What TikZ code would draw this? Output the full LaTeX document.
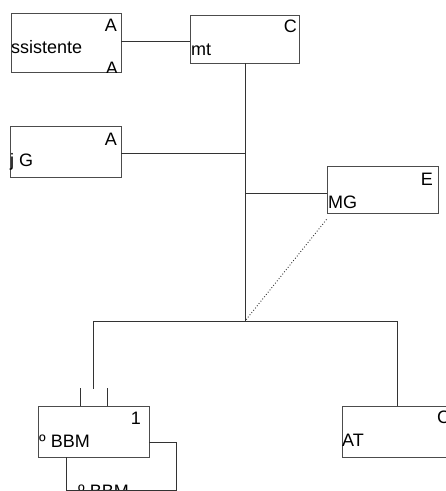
\documentclass[tikz,border=0pt]{standalone}
\usepackage{fontspec}
\setmainfont{Liberation Sans}
\usepackage{tikz}
\usetikzlibrary{calc}
\tikzstyle{box} = [rectangle, draw=black!70, line width=0.9pt, inner sep=0pt]
\tikzstyle{txt} = [inner sep=0pt, font=\fontsize{18}{20}\selectfont]
\tikzstyle{line} = [draw=black!80, line width=0.9pt]

\begin{document}
\begin{tikzpicture}[x=1pt,y=-1pt]
    \clip (0,0) rectangle (446,491);
    % Place nodes
    \node [box, minimum width=110pt, minimum height=59pt] (asst) at (66,42.5) {};
    \node [box, minimum width=109pt, minimum height=48pt] (mt) at (244.5,39) {};
    \node [box, minimum width=111pt, minimum height=51pt] (jg) at (65.5,151.5) {};
    \node [box, minimum width=111pt, minimum height=47pt] (mg) at (382.5,189.5) {};
    \node [box, minimum width=111pt, minimum height=51pt] (bbm) at (93.5,431.5) {};
    \node [box, minimum width=110pt, minimum height=51pt] (at) at (397,431.5) {};
    % Texts
    \node [txt, anchor=base east] (asstA) at (117,31) {A};
    \node [txt, anchor=base west] (asstT) at (11,53) {ssistente};
    \begin{scope}
        \clip (asst.south west) rectangle (asst.north east);
        \node [txt, anchor=north east] (asstB) at (118,62) {A};
    \end{scope}
    \node [txt, anchor=base east] (mtC) at (297,32) {C};
    \node [txt, anchor=base west] (mtT) at (191,55) {mt};
    \node [txt, anchor=base east] (jgA) at (117,145) {A};
    \node [txt, anchor=base west] (jgT) at (10,166) {j G};
    \node [txt, anchor=base east] (mgE) at (433,185) {E};
    \node [txt, anchor=base west] (mgT) at (328,208) {MG};
    \node [txt, anchor=base east] (bbm1) at (141,424) {1};
    \node [txt, anchor=base west] (bbmT) at (39,447) {º BBM};
    \node [txt, anchor=north west] (atC) at (437,411) {C};
    \node [txt, anchor=base west] (atT) at (342,446) {AT};
    \node [txt, anchor=north west] (loopT) at (78,485) {º BBM};
    % Junctions
    \coordinate (hub) at (245,321);
    \coordinate (left) at (93,321);
    \coordinate (right) at (397,321);
    \coordinate (leftend) at (93,389);
    \coordinate (loopa) at (176,442);
    \coordinate (loopb) at (176,490);
    \coordinate (loopc) at (66,490);
    % Draw edges
    \path [line] (asst.east |- 0,41) -- (mt.west |- 0,41);
    \path [line] (mt.south -| hub) -- (hub);
    \path [line] (jg.east |- 0,153) -- (hub |- 0,153);
    \path [line] (mg.west |- 0,193) -- (hub |- 0,193);
    \path [line, dotted] ([yshift=-6pt]mg.south west) -- (hub);
    \path [line] (left) -- (right);
    \path [line] (left) -- (leftend);
    \path [line] (right) -- (at.north -| right);
    \path [line] (bbm.north -| 80,0) -- (80,388);
    \path [line] (bbm.north -| 107,0) -- (107,388);
    \path [line] (bbm.east |- loopa) -- (loopa) -- (loopb) -- (loopc) -- (bbm.south -| loopc);
\end{tikzpicture}
\end{document}
